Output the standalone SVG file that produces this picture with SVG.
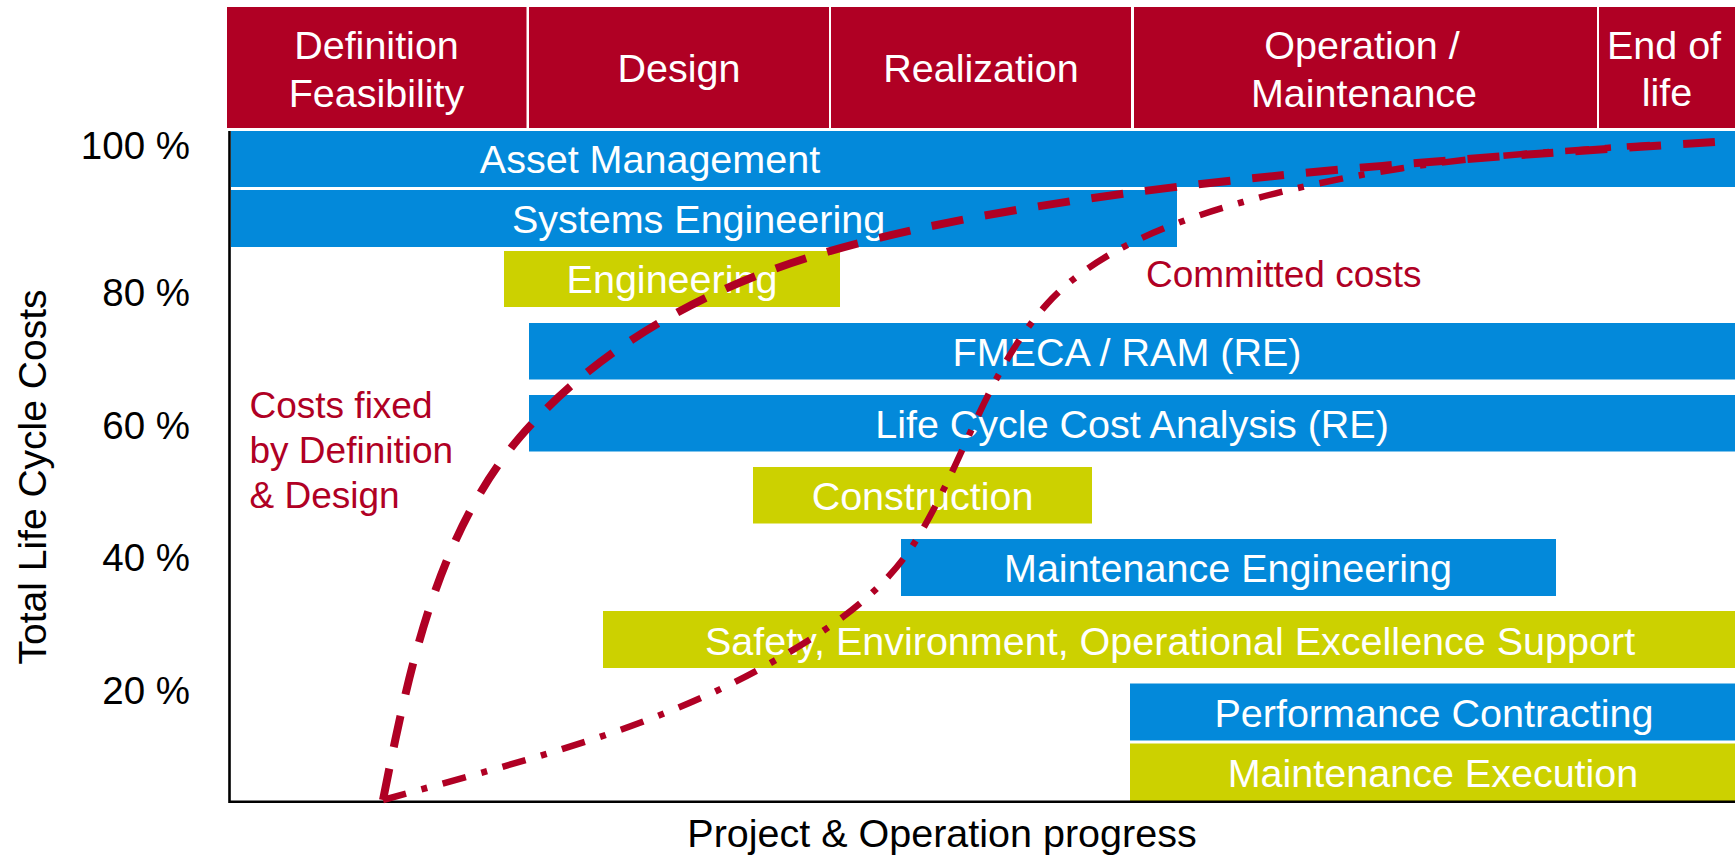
<svg xmlns="http://www.w3.org/2000/svg" width="1735" height="855" viewBox="0 0 1735 855">
<style>
text{font-family:"Liberation Sans",Arial,sans-serif}
.hdr{fill:#B00024}
.blue{fill:#0389DA}
.grn{fill:#CCD100}
.wt{fill:#fff;font-size:39.5px;text-anchor:middle}
.ax{fill:#000;font-size:38.5px}
.red{fill:#B00024;font-size:37px}
.axis{stroke:#000;stroke-width:2.6;fill:none}
.c1{fill:none;stroke:#B00024;stroke-width:8;stroke-dasharray:32 22;stroke-linejoin:round}
.c2{fill:none;stroke:#B00024;stroke-width:6.5;stroke-dasharray:24 16 6 16;stroke-linejoin:round}
</style>
<rect width="1735" height="855" fill="#fff"/>
<g id="phase-definition"><rect class="hdr" x="227" y="7" width="299.5" height="121"/><text class="wt" x="376.5" y="59.3">Definition</text><text class="wt" x="376.5" y="106.7">Feasibility</text></g>
<g id="phase-design"><rect class="hdr" x="529" y="7" width="300" height="121"/><text class="wt" x="679" y="82">Design</text></g>
<g id="phase-realization"><rect class="hdr" x="831" y="7" width="300" height="121"/><text class="wt" x="981" y="82">Realization</text></g>
<g id="phase-operation"><rect class="hdr" x="1134" y="7" width="463" height="121"/><text class="wt" x="1362" y="59.3">Operation /</text><text class="wt" x="1364" y="106.7">Maintenance</text></g>
<g id="phase-eol"><rect class="hdr" x="1599" y="7" width="136" height="121"/><text class="wt" x="1664" y="58.5">End of</text><text class="wt" x="1667" y="106">life</text></g>

<g id="y-axis-labels" class="ax">
<text x="190" y="159.3" text-anchor="end">100 %</text>
<text x="190" y="306" text-anchor="end">80 %</text>
<text x="190" y="439.3" text-anchor="end">60 %</text>
<text x="190" y="570.7" text-anchor="end">40 %</text>
<text x="190" y="704" text-anchor="end">20 %</text>
</g>
<text id="y-title" class="ax" style="font-size:39px" text-anchor="middle" transform="translate(46,477) rotate(-90)">Total Life Cycle Costs</text>
<text id="x-title" class="ax" style="font-size:39.5px" x="942" y="846.5" text-anchor="middle">Project &amp; Operation progress</text>

<g id="bar-asset"><rect class="blue" x="231" y="131" width="1504" height="56"/><text class="wt" x="650" y="173">Asset Management</text></g>
<g id="bar-systems"><rect class="blue" x="231" y="190" width="946" height="57"/><text class="wt" x="698.5" y="232.5">Systems Engineering</text></g>
<g id="bar-engineering"><rect class="grn" x="504" y="251" width="336" height="56"/><text class="wt" x="672" y="293">Engineering</text></g>
<g id="bar-fmeca"><rect class="blue" x="529" y="323" width="1206" height="56.5"/><text class="wt" x="1127" y="366">FMECA / RAM (RE)</text></g>
<g id="bar-lcca"><rect class="blue" x="529" y="395" width="1206" height="56.5"/><text class="wt" x="1132" y="437.5">Life Cycle Cost Analysis (RE)</text></g>
<g id="bar-construction"><rect class="grn" x="753" y="467" width="339" height="56.5"/><text class="wt" x="922.5" y="510">Construction</text></g>
<g id="bar-maint-eng"><rect class="blue" x="901" y="539" width="655" height="57"/><text class="wt" x="1228" y="582">Maintenance Engineering</text></g>
<g id="bar-safety"><rect class="grn" x="603" y="611" width="1132" height="57"/><text class="wt" x="1170" y="654.5">Safety, Environment, Operational Excellence Support</text></g>
<g id="bar-performance"><rect class="blue" x="1130" y="683.5" width="605" height="57"/><text class="wt" x="1434" y="726.5">Performance Contracting</text></g>
<g id="bar-maint-exec"><rect class="grn" x="1130" y="743.5" width="605" height="57.5"/><text class="wt" x="1433" y="786.5">Maintenance Execution</text></g>

<g id="axes"><path class="axis" d="M229.5,131 V801.7 H1735"/></g>

<g id="label-costs-fixed" class="red"><text x="249.5" y="418.3">Costs fixed</text><text x="249.5" y="463.3">by Definition</text><text x="249.5" y="508.3">&amp; Design</text></g>
<g id="label-committed" class="red"><text x="1146" y="286.7">Committed costs</text></g>

<g id="connectors">
<path id="costs-fixed-curve" class="c1" d="M383,800 C409,670 436,536 520,437 C595,350 700,291 810,257 C1039,186 1416,161 1716,142"/>
<path id="committed-curve" class="c2" d="M383,800 C513,763.5 649.5,731 767,665 C822.7,633.6 881,596.4 915,542 C962.7,465.5 987,370.6 1047,304 C1096,250 1173,221.7 1243,202 C1337,175.5 1436.5,161 1534,153 C1580,150 1610,147.5 1650,145"/>
</g>
</svg>
